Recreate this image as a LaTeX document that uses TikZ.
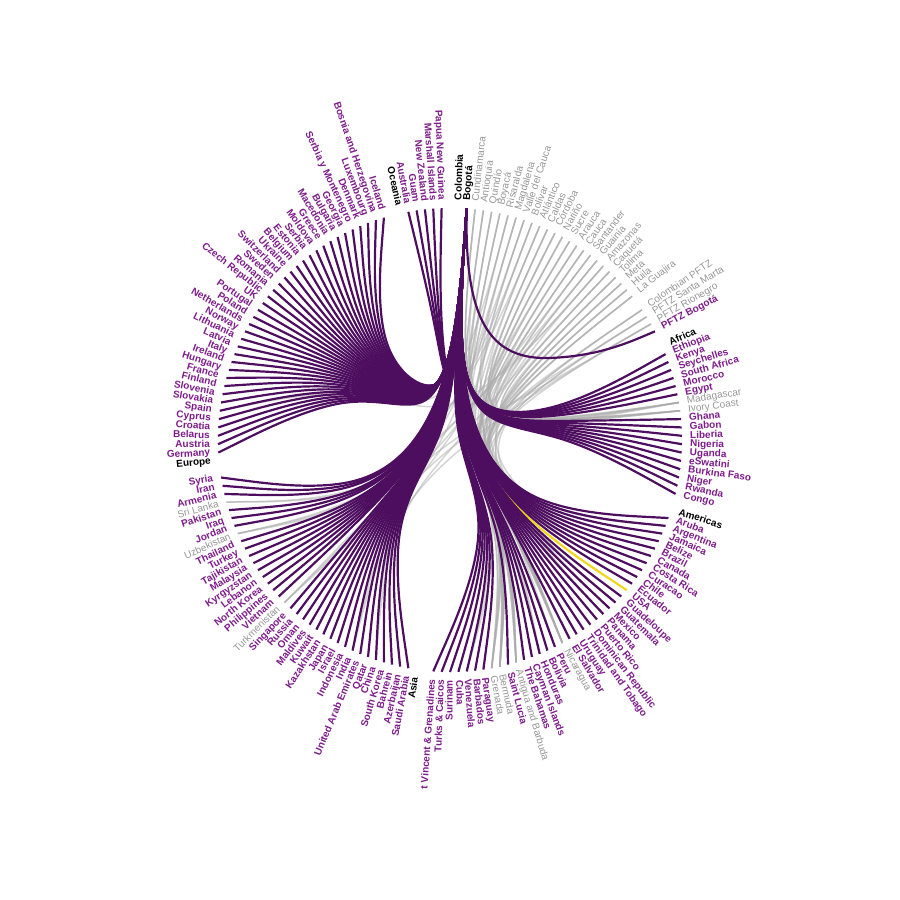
\documentclass[tikz,border=0pt]{standalone}
\usepackage{fontspec}
\setmainfont{Liberation Sans}
\usetikzlibrary{calc}
\definecolor{linkpurple}{RGB}{78,14,96}
\definecolor{labelpurple}{RGB}{125,28,138}
\definecolor{labelgray}{RGB}{150,150,150}
\definecolor{linkgray}{RGB}{170,170,170}
\definecolor{linkyellow}{RGB}{240,214,30}

% angle step between leaves (360/174)
\def\leafstep{2.0689655}

% bundled link from leaf #1 to leaf #2 (basis spline, beta 0.85)
\newcommand{\bundle}[3]{%
  \pgfmathsetmacro\bsrc{90-(#1+1)*\leafstep}%
  \pgfmathsetmacro\bmid{#2<50 ? 40 : (#2<89 ? 69.5 : (#2<126 ? 107.5 : (#2<166 ? 146 : 169.5)))}%
  \pgfmathsetmacro\bgrp{90-(\bmid+1)*\leafstep}%
  \coordinate (l2) at ($(p#1)!0.5!(p#2)$);
  \coordinate (l3) at ($(p#1)!0.75!(p#2)$);
  \coordinate (q1) at (\bsrc:116);
  \coordinate (q2) at ($0.15*(l2)$);
  \coordinate (q3) at ($0.85*(\bgrp:100)+0.15*(l3)$);
  \draw[#3] (p#1) -- ($0.8333*(p#1)+0.1667*(q1)$)
    .. controls ($0.6667*(p#1)+0.3333*(q1)$) and ($0.3333*(p#1)+0.6667*(q1)$) .. ($0.1667*(p#1)+0.6667*(q1)+0.1667*(q2)$)
    .. controls ($0.6667*(q1)+0.3333*(q2)$) and ($0.3333*(q1)+0.6667*(q2)$) .. ($0.1667*(q1)+0.6667*(q2)+0.1667*(q3)$)
    .. controls ($0.6667*(q2)+0.3333*(q3)$) and ($0.3333*(q2)+0.6667*(q3)$) .. ($0.1667*(q2)+0.6667*(q3)+0.1667*(p#2)$)
    .. controls ($0.6667*(q3)+0.3333*(p#2)$) and ($0.3333*(q3)+0.6667*(p#2)$) .. ($0.1667*(q3)+0.8333*(p#2)$) -- (p#2);
}

% index/label/kind (g = group, p = linked, n = not linked)
\def\leaves{0/Colombia/g, 1/Bogotá/g, 2/Cundinamarca/n, 3/Antioquia/n, 4/Quindío/n,
5/Boyacá/n, 6/Risaralda/n, 7/Magdalena/n, 8/Valle del Cauca/n, 9/Bolívar/n,
10/Atlántico/n, 11/Caldas/n, 12/Córdoba/n, 13/Nariño/n, 14/Sucre/n, 15/Arauca/n,
16/Cauca/n, 17/Santander/n, 18/Guainía/n, 19/Amazonas/n, 20/Caquetá/n, 21/Tolima/n,
22/Meta/n, 23/Huila/n, 24/La Guajira/n, 26/Colombian PFTZ/n, 27/PFTZ Santa Marta/n,
28/PFTZ Rionegro/n, 29/PFTZ Bogotá/p,
31/Africa/g, 32/Ethiopia/p, 33/Kenya/p, 34/Seychelles/p, 35/South Africa/p,
36/Morocco/p, 37/Egypt/p, 38/Madagascar/n, 39/Ivory Coast/n, 40/Ghana/p, 41/Gabon/p,
42/Liberia/p, 43/Nigeria/p, 44/Uganda/p, 45/eSwatini/p, 46/Burkina Faso/p,
47/Niger/p, 48/Rwanda/p, 49/Congo/p,
51/Americas/g, 52/Aruba/p, 53/Argentina/p, 54/Jamaica/p, 55/Belize/p, 56/Brazil/p,
57/Canada/p, 58/Costa Rica/p, 59/Curacao/p, 60/Chile/p, 61/Ecuador/p, 62/USA/p,
63/Guadeloupe/p, 64/Guatemala/p, 65/Mexico/p, 66/Panama/p, 67/Puerto Rico/p,
68/Dominican Republic/p, 69/Trinidad and Tobago/p, 70/Uruguay/p, 71/El Salvador/p,
72/Nicaragua/n, 73/Peru/p, 74/Bolivia/p, 75/Honduras/p, 76/Cayman Islands/p,
77/The Bahamas/p, 78/Antigua and Barbuda/n, 79/Saint Lucia/p, 80/Bermuda/n,
81/Grenada/n, 82/Paraguay/p, 83/Barbados/p, 84/Venezuela/p, 85/Cuba/p, 86/Surinam/p,
87/Turks \& Caicos/p, 88/t Vincent \& Grenadines/p,
90/Asia/g, 91/Saudi Arabia/p, 92/Azerbaijan/p, 93/Bahrein/p, 94/South Korea/p,
95/China/p, 96/Qatar/p, 97/United Arab Emirates/p, 98/India/p, 99/Indonesia/p,
100/Israel/p, 101/Japan/p, 102/Kazakhstan/p, 103/Kuwait/p, 104/Maldives/p, 105/Oman/p,
106/Russia/p, 107/Singapore/p, 108/Turkmenistan/n, 109/Vietnam/p, 110/Philippines/p,
111/North Korea/p, 112/Lebanon/p, 113/Kyrgyzstan/p, 114/Malaysia/p, 115/Tajikistan/p,
116/Turkey/p, 117/Thailand/p, 118/Uzbekistan/n, 119/Jordan/p, 120/Iraq/p,
121/Pakistan/p, 122/Sri Lanka/n, 123/Armenia/p, 124/Iran/p, 125/Syria/p,
127/Europe/g, 128/Germany/p, 129/Austria/p, 130/Belarus/p, 131/Croatia/p,
132/Cyprus/p, 133/Spain/p, 134/Slovakia/p, 135/Slovenia/p, 136/Finland/p,
137/France/p, 138/Hungary/p, 139/Ireland/p, 140/Italy/p, 141/Latvia/p,
142/Lithuania/p, 143/Norway/p, 144/Netherlands/p, 145/Poland/p, 146/Portugal/p,
147/UK/p, 148/Czech Republic/p, 149/Romania/p, 150/Sweden/p, 151/Switzerland/p,
152/Ukraine/p, 153/Belgium/p, 154/Estonia/p, 155/Serbia/p, 156/Moldova/p,
157/Greece/p, 158/Macedonia/p, 159/Bulgaria/p, 160/Georgia/p,
161/Serbia y Montenegro/p, 162/Denmark/p, 163/Luxembourg/p,
164/Bosnia and Herzegovina/p, 165/Iceland/p,
167/Oceania/g, 168/Australia/p, 169/Guam/p, 170/New Zealand/p,
171/Marshall Islands/p, 172/Papua New Guinea/p}

\begin{document}
\begin{tikzpicture}[
    x=1pt, y=1pt,
    lbltext/.style={inner sep=0pt, font=\fontsize{10}{12}\selectfont},
    lblg/.style={lbltext, text=black, font=\fontsize{10}{12}\selectfont\bfseries},
    lblp/.style={lbltext, text=labelpurple, font=\fontsize{10}{12}\selectfont\bfseries},
    lbln/.style={lbltext, text=labelgray},
    lbl/.code={\if g#1\tikzset{lblg}\fi\if p#1\tikzset{lblp}\fi\if n#1\tikzset{lbln}\fi},
    graylink/.style={draw=linkgray, line width=1.5pt, opacity=0.5},
    purplelink/.style={draw=linkpurple, line width=2.2pt},
    yellowlink/.style={draw=linkyellow, line width=2.2pt}
]
\useasboundingbox (-450,-460) rectangle (450,440);

% Labels and leaf ends
\foreach \u/\nm/\kd in \leaves {
  \pgfmathsetmacro\ang{(\u+1)*\leafstep}
  \ifdim\ang pt>180pt
    \node[lbl=\kd, anchor=mid east, rotate=270-\ang] (n\u) at (90-\ang:240) {\nm};
  \else
    \node[lbl=\kd, anchor=mid west, rotate=90-\ang] (n\u) at (90-\ang:240) {\nm};
  \fi
  \coordinate (p\u) at (90-\ang:232);
}

% Links of the departments
\foreach \s [count=\k from 0] in {2,...,24,26,27,28} {
  \pgfmathtruncatemacro\ta{{38,39,72,78,80,81,108,118,122}[mod(\k,9)]}
  \pgfmathtruncatemacro\tb{{39,72,78,80,81,38,72,80,78}[mod(\k,9)]}
  \pgfmathtruncatemacro\tc{{56,73,65,66,133,95,53,84,60,75,64,58,98}[mod(\k,13)]}
  \bundle{\s}{\ta}{graylink}
  \bundle{\s}{\tb}{graylink}
  \bundle{\s}{\tc}{graylink}
}

% Links of Bogota
\bundle{1}{62}{yellowlink}
\foreach \u/\nm/\kd in \leaves {
  \if p\kd\ifnum\u>30 \ifnum\u=62 \else\bundle{1}{\u}{purplelink}\fi\fi\fi
}
\draw[purplelink] (p1) .. controls (14,120) and (40,80) .. (100,82)
  .. controls (150,84) and (180,98) .. (p29);

\end{tikzpicture}
\end{document}
